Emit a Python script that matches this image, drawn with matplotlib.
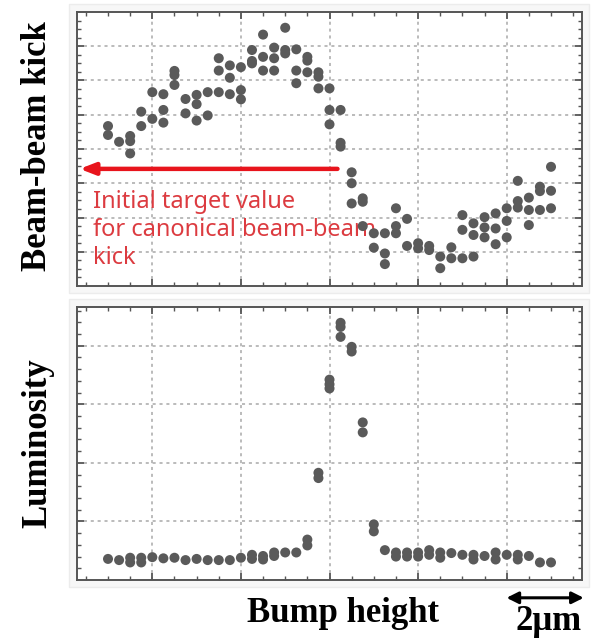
import numpy as np
import matplotlib.pyplot as plt
from matplotlib.patches import Rectangle, FancyArrowPatch

# bump height positions (arbitrary units, grid step = 1)
x_pos = [0.5, 0.625, 0.75, 0.875, 1.0, 1.125, 1.25, 1.375, 1.5, 1.625,
         1.75, 1.875, 2.0, 2.125, 2.25, 2.375, 2.5, 2.625, 2.75, 2.875,
         3.0, 3.125, 3.25, 3.375, 3.5, 3.625, 3.75, 3.875, 4.0, 4.125,
         4.25, 4.375, 4.5, 4.625, 4.75, 4.875, 5.0, 5.125, 5.25, 5.375, 5.5]

# beam-beam kick, several measurements per bump setting
kick = [[4.67, 4.41], [4.21], [4.38, 4.23, 3.87], [5.09, 4.67], [5.66, 4.88],
        [5.60, 5.14, 4.77], [6.28, 6.16, 5.87], [5.46, 5.04], [5.58, 5.31, 4.83],
        [5.66, 4.98], [6.65, 6.29, 5.66], [6.44, 6.08, 5.60], [6.39, 5.72, 5.45],
        [6.89, 6.57, 6.50], [7.34, 6.69, 6.29], [6.96, 6.65, 6.29], [7.54, 6.89, 6.79],
        [6.91, 6.29, 5.92], [6.69, 6.58, 6.24], [6.24, 6.11, 5.77], [5.77, 5.14, 4.72],
        [5.14, 4.18, 4.07], [3.32, 3.00, 2.41], [2.56, 2.46, 1.75], [1.54, 1.12],
        [1.54, 0.95, 0.64], [2.27, 1.75, 1.54], [1.96, 1.17], [1.25, 1.10],
        [1.17, 1.05], [0.86, 0.52], [1.13, 0.81], [2.07, 1.64, 0.81],
        [1.83, 1.49, 0.86], [2.01, 1.71, 1.42], [2.12, 1.68, 1.22], [2.27, 1.90, 1.42],
        [3.07, 2.48, 2.29], [2.58, 2.22, 1.78], [2.90, 2.77, 2.22], [3.48, 2.78, 2.27]]

# luminosity
lumi = [[0.36], [0.34], [0.38, 0.30], [0.38, 0.30], [0.39], [0.37], [0.38], [0.34],
        [0.36], [0.34], [0.34], [0.34], [0.38], [0.43, 0.36], [0.41, 0.35],
        [0.47, 0.41], [0.47], [0.47], [0.69, 0.59], [1.83, 1.74], [3.42, 3.34, 3.27],
        [4.39, 4.32, 4.15], [3.98, 3.90], [2.69, 2.52], [0.95, 0.83], [0.51],
        [0.47, 0.40], [0.47, 0.40], [0.47, 0.40], [0.51, 0.43], [0.47, 0.38], [0.46],
        [0.43], [0.43, 0.35], [0.41], [0.47, 0.35], [0.43], [0.43, 0.35], [0.41],
        [0.30], [0.30]]

target_kick = 3.42
arrow_from = 3.09
arrow_to = 0.18


def flatten(xs, ys):
    fx, fy = [], []
    for x, col in zip(xs, ys):
        for y in col:
            fx.append(x)
            fy.append(y)
    return fx, fy


def style_axes(ax, ymax, yminor):
    ax.set_xlim(0.15, 5.85)
    ax.set_ylim(0, ymax)
    ax.set_xticks([1, 2, 3, 4, 5])
    ax.set_xticks(np.arange(0.25, 5.85, 0.25), minor=True)
    ax.set_yticks(np.arange(1, ymax, 1))
    ax.set_yticks(np.arange(yminor, ymax, yminor), minor=True)
    ax.set_xticklabels([])
    ax.set_yticklabels([])
    ax.tick_params(which='both', direction='in', top=True, right=True, color='#555555')
    ax.tick_params(which='major', length=5, width=1.3)
    ax.tick_params(which='minor', length=3, width=1)
    ax.grid(True, which='major', color='#a8a8a8', linestyle=(0, (2, 2.5)), linewidth=1.1)
    ax.set_axisbelow(True)
    for s in ax.spines.values():
        s.set_color('#555555')
        s.set_linewidth(1.4)


fig = plt.figure(figsize=(6.03, 6.38), dpi=100)

# faint grey panel backgrounds
for (l, b, w, h) in [(0.115, 0.541, 0.862, 0.452), (0.115, 0.080, 0.862, 0.452)]:
    fig.patches.append(Rectangle((l, b), w, h, transform=fig.transFigure,
                                 facecolor='#f7f7f7', edgecolor='#ececec', lw=1, zorder=-5))

ax1 = fig.add_axes([0.1277, 0.5517, 0.8375, 0.4295])
ax2 = fig.add_axes([0.1277, 0.0909, 0.8375, 0.4279])

kx, ky = flatten(x_pos, kick)
ax1.scatter(kx, ky, s=52, color='#5a5a5a', edgecolors='none', zorder=3)
style_axes(ax1, 8, 0.25)

ax1.annotate('', xy=(arrow_to, target_kick), xytext=(arrow_from, target_kick),
             arrowprops=dict(arrowstyle='-|>,head_length=0.9,head_width=0.35',
                             color='#e8141c', lw=3.2, shrinkA=0, shrinkB=0), zorder=4)
ax1.text(0.33, 2.80, 'Initial target value\nfor canonical beam-beam\nkick',
         color='#dc3b40', fontsize=17, family='Noto Sans', va='top', ha='left',
         linespacing=1.22, zorder=2)

lx, ly = flatten(x_pos, lumi)
ax2.scatter(lx, ly, s=52, color='#5a5a5a', edgecolors='none', zorder=3)
style_axes(ax2, 4.66, 0.2)

serif = dict(family='Liberation Serif', fontweight='bold', fontsize=25)
fig.text(0.063, 0.771, 'Beam-beam kick', rotation=90, ha='center', va='center', **serif)
fig.text(0.063, 0.305, 'Luminosity', rotation=90, ha='center', va='center', **serif)
fig.text(0.569, 0.039, 'Bump height', ha='center', va='center', **serif)
fig.text(0.910, 0.026, '2μm', ha='center', va='center', **serif)
fig.add_artist(FancyArrowPatch(
    (0.840, 0.063), (0.968, 0.063), transform=fig.transFigure,
    arrowstyle='<|-|>,head_length=7,head_width=3.5', color='black', lw=2.2,
    shrinkA=0, shrinkB=0))

fig.savefig('out.png', dpi=100)
